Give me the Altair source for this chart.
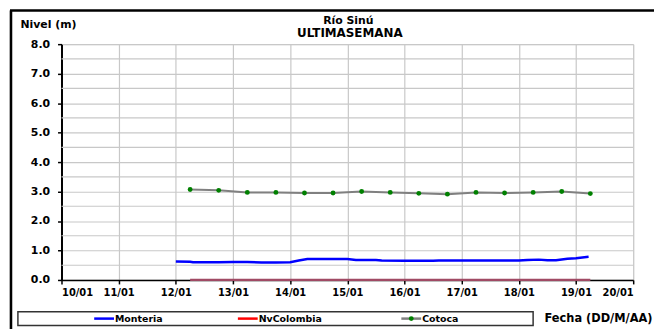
import altair as alt
import pandas as pd

# ---------------- data ----------------
SERIES = ["Monteria", "NvColombia", "Cotoca"]
TITLE_LINES = ["Río Sinú", "ULTIMASEMANA"]
Y_TITLE = "Nivel (m)"
X_TITLE = "Fecha (DD/M/AA)"
X_TICKS = [10, 11, 12, 13, 14, 15, 16, 17, 18, 19, 20]
X_TICK_LABELS = ["10/01", "11/01", "12/01", "13/01", "14/01", "15/01",
                 "16/01", "17/01", "18/01", "19/01", "20/01"]
Y_TICKS = [0.0, 1.0, 2.0, 3.0, 4.0, 5.0, 6.0, 7.0, 8.0]
Y_MINOR_GRID = [0.5, 1.5, 2.5, 3.5, 4.5, 5.5, 6.5, 7.5]

monteria_t = [12.0, 12.25, 12.3, 12.75, 13.0, 13.25, 13.5, 13.75, 14.0, 14.15, 14.3,
              14.5, 15.0, 15.15, 15.5, 15.6, 16.0, 16.5, 16.6, 17.0, 17.5, 18.0,
              18.15, 18.35, 18.5, 18.65, 18.85, 19.0, 19.22]
monteria_v = [0.63, 0.62, 0.60, 0.60, 0.61, 0.61, 0.59, 0.59, 0.60, 0.66, 0.71,
              0.71, 0.71, 0.68, 0.68, 0.66, 0.65, 0.65, 0.66, 0.66, 0.66, 0.66,
              0.68, 0.69, 0.67, 0.67, 0.72, 0.74, 0.79]

cotoca_t = [12.25, 12.75, 13.25, 13.75, 14.25, 14.75, 15.25, 15.75,
            16.25, 16.75, 17.25, 17.75, 18.25, 18.75, 19.25]
cotoca_v = [3.07, 3.04, 2.97, 2.97, 2.95, 2.95, 3.00, 2.97,
            2.94, 2.91, 2.97, 2.95, 2.97, 3.00, 2.93]

nvcol_t = [12.25, 12.75, 13.25, 13.75, 14.25, 14.75, 15.25, 15.75,
           16.25, 16.75, 17.25, 17.75, 18.25, 18.75, 19.25]
nvcol_v = [0.0, 0.0, 0.0, 0.0, 0.0, 0.0, 0.0, 0.0,
           0.0, 0.0, 0.0, 0.0, 0.0, 0.0, 0.0]

# ---------------- layout / style ----------------
W, H = 577, 238
PAD = {"left": 54, "top": 35, "right": 21, "bottom": 48}
FONT = "DejaVu Sans"
LINE_COLORS = ["#0000ff", "#a04a64", "#808080"]
LEGEND_COLORS = ["#0000ff", "#ff0000", "#808080"]
POINT_COLOR = "#008000"
GRID_COLOR = "#c8c8c8"

rows = []
for t, v in zip(monteria_t, monteria_v):
    rows.append({"series": SERIES[0], "t": t, "v": v})
for t, v in zip(nvcol_t, nvcol_v):
    rows.append({"series": SERIES[1], "t": t, "v": v})
for t, v in zip(cotoca_t, cotoca_v):
    rows.append({"series": SERIES[2], "t": t, "v": v})
df = pd.DataFrame(rows)

label_array = "[" + ",".join("'" + s + "'" for s in X_TICK_LABELS) + "]"

x_scale = alt.Scale(domain=[X_TICKS[0], X_TICKS[-1]], nice=False, zero=False)
y_scale = alt.Scale(domain=[Y_TICKS[0], Y_TICKS[-1]], nice=False)

x_axis = alt.Axis(
    values=X_TICKS,
    labelExpr=label_array + "[round(datum.value) - " + str(X_TICKS[0]) + "]",
    title=X_TITLE,
    titleX=487, titleY=39, titleAlign="left", titleBaseline="middle",
    titleFont=FONT, titleFontSize=11.5, titleFontWeight="bold", titleColor="#000",
    labelFont=FONT, labelFontSize=10, labelFontWeight="bold", labelColor="#000",
    labelPadding=4, tickSize=4, tickColor="#000", tickWidth=1.5,
    labelOverlap=False,
    domainColor="#000", domainWidth=1.5,
    grid=True, gridColor=GRID_COLOR, gridWidth=1.2,
)
y_axis = alt.Axis(
    values=Y_TICKS,
    format=".1f",
    title=Y_TITLE,
    titleAngle=0, titleX=-42, titleY=-20, titleAlign="left", titleBaseline="middle",
    titleFont=FONT, titleFontSize=11, titleFontWeight="bold", titleColor="#000",
    labelFont=FONT, labelFontSize=11, labelFontWeight="bold", labelColor="#000",
    labelPadding=8, tickSize=4, tickColor="#000", tickWidth=1.5,
    labelOverlap=False,
    domainColor="#000", domainWidth=2,
    grid=True, gridColor=GRID_COLOR, gridWidth=1.2,
)

color = alt.Color("series:N", scale=alt.Scale(domain=SERIES, range=LINE_COLORS), legend=None)

lines = alt.Chart(df).mark_line().encode(
    x=alt.X("t:Q", scale=x_scale, axis=x_axis),
    y=alt.Y("v:Q", scale=y_scale, axis=y_axis),
    color=color,
    strokeWidth=alt.StrokeWidth("series:N", scale=alt.Scale(domain=SERIES, range=[2.5, 2, 2]), legend=None),
    order="t:Q",
)
minor = alt.Chart(pd.DataFrame({"v": Y_MINOR_GRID})).mark_rule(
    color=GRID_COLOR, strokeWidth=1.2
).encode(y=alt.Y("v:Q", scale=y_scale, axis=y_axis))

points = alt.Chart(df[df.series == SERIES[2]]).mark_point(
    filled=True, size=24, color=POINT_COLOR, opacity=1
).encode(x=alt.X("t:Q", scale=x_scale, axis=x_axis), y=alt.Y("v:Q", scale=y_scale, axis=y_axis))

one = pd.DataFrame({"k": [0]})

def deco():
    return alt.Chart(one)

# frame (outer border)
frame_top = deco().mark_rule(color="#000", strokeWidth=2.6).encode(
    x=alt.value(-52), x2=alt.value(620), y=alt.value(-34))
frame_left = deco().mark_rule(color="#000", strokeWidth=2.6).encode(
    x=alt.value(-51), y=alt.value(-34), y2=alt.value(320))

# title
t1 = deco().mark_text(font=FONT, fontSize=11, fontWeight="bold", color="#000").encode(
    x=alt.value(289.5), y=alt.value(-23.5), text=alt.value(TITLE_LINES[0]))
t2 = deco().mark_text(font=FONT, fontSize=12, fontWeight="bold", color="#000").encode(
    x=alt.value(291), y=alt.value(-11), text=alt.value(TITLE_LINES[1]))

# legend box
LY = 277
leg_box = deco().mark_rect(fill="#ffffff", stroke="#333333", strokeWidth=1.5).encode(
    x=alt.value(-44), x2=alt.value(476), y=alt.value(270), y2=alt.value(284))
leg_layers = [leg_box]
leg_x = [33, 178, 343]
for i, name in enumerate(SERIES):
    lx = leg_x[i]
    leg_layers.append(deco().mark_rule(color=LEGEND_COLORS[i], strokeWidth=2.5).encode(
        x=alt.value(lx), x2=alt.value(lx + 20), y=alt.value(LY)))
    if i == 2:
        leg_layers.append(deco().mark_point(filled=True, size=24, color=POINT_COLOR, opacity=1).encode(
            x=alt.value(lx + 10), y=alt.value(LY)))
    leg_layers.append(deco().mark_text(font=FONT, fontSize=9.5, fontWeight="bold", color="#000",
                                       align="left", baseline="middle").encode(
        x=alt.value(lx + 21), y=alt.value(LY), text=alt.value(name)))

chart = alt.layer(minor, lines, points, frame_top, frame_left, t1, t2, *leg_layers).properties(
    width=W, height=H,
    autosize=alt.AutoSizeParams(type="none"),
    padding=PAD,
).configure_view(stroke="#9a9a9a", strokeWidth=1.5).configure_axis(
    labelOverlap=False
).configure(background="#ffffff")

chart.save("out.html", embed_options={"renderer": "svg", "actions": False})
